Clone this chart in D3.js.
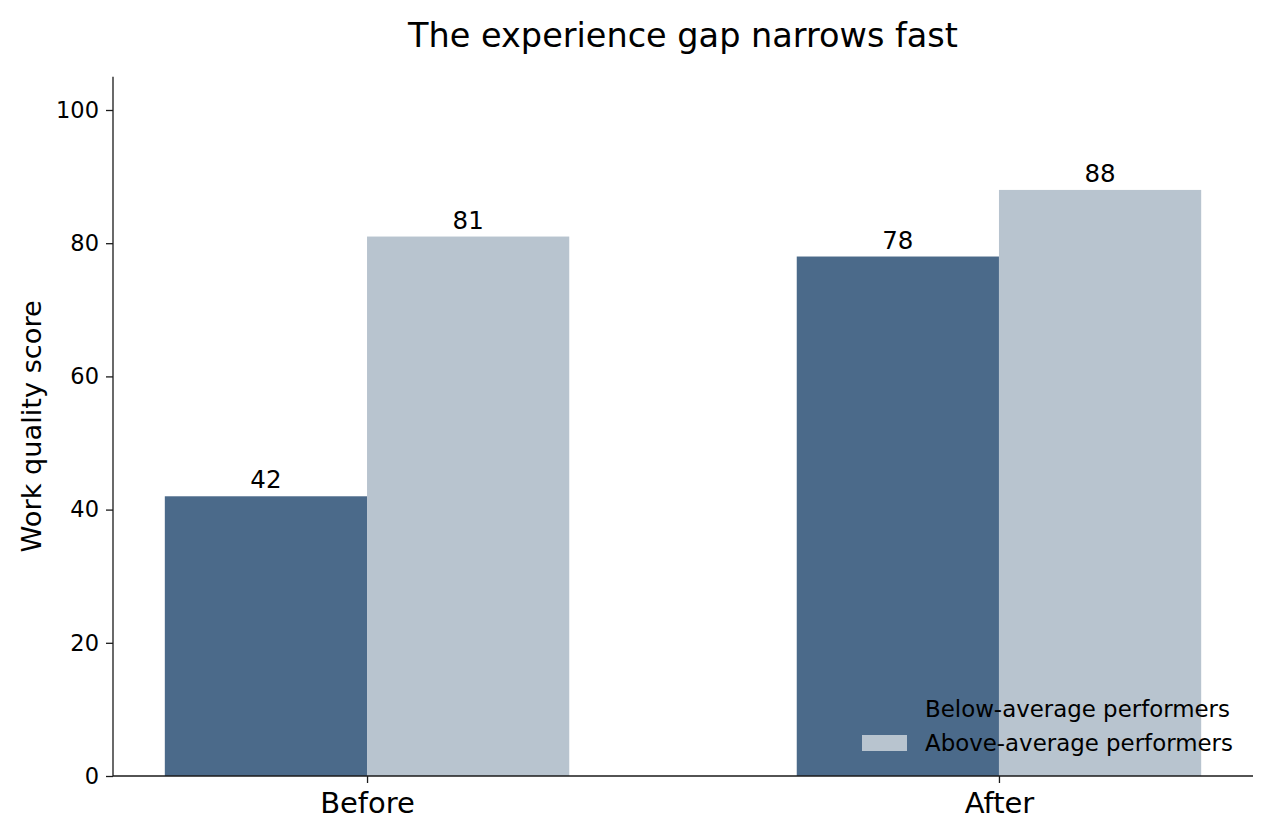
<!DOCTYPE html>
<html><head><meta charset="utf-8">
<script src="https://cdn.jsdelivr.net/npm/d3@7/dist/d3.min.js"></script>
<style>body{margin:0;background:#fff;} text{font-family:"DejaVu Sans",sans-serif;}</style>
</head><body>
<svg id="c" width="1275" height="840"></svg>
<script>
const categories = ["Before", "After"];
const seriesNames = ["Below-average performers", "Above-average performers"];
const belowAvg = [42, 78];
const aboveAvg = [81, 88];
const yTicks = [0, 20, 40, 60, 80, 100];
const colors = ["#4b6a8a", "#b8c4cf"];

const svg = d3.select("#c");
const L = 113, R = 1253, T = 76.7, B = 776;
const x = d3.scaleLinear().domain([-0.402, 1.402]).range([L, R]);
const y = d3.scaleLinear().domain([0, 105]).range([B, T]);
const bw = 0.32;
const series = [belowAvg, aboveAvg];

series.forEach((vals, s) => {
  const off = s === 0 ? -bw/2 : bw/2;
  svg.append("g").selectAll("rect").data(vals).join("rect")
    .attr("x", (d,i) => x(i + off - bw/2))
    .attr("width", (d,i) => x(i + off + bw/2) - x(i + off - bw/2))
    .attr("y", d => y(d))
    .attr("height", d => y(0) - y(d))
    .attr("fill", colors[s]);
  svg.append("g").selectAll("text").data(vals).join("text")
    .attr("x", (d,i) => x(i + off))
    .attr("y", d => y(d) - 8)
    .attr("text-anchor", "middle")
    .attr("font-size", 24.5)
    .attr("fill", "#000")
    .text(d => d);
});

// y axis
const ya = svg.append("g").attr("transform", `translate(${L},0)`)
  .call(d3.axisLeft(y).tickValues(yTicks).tickSize(7).tickPadding(7));
ya.select(".domain").attr("d", `M0,${T}V${B}`);
ya.selectAll("text").attr("font-size", 22.5).attr("fill", "#000");
// x axis
const xa = svg.append("g").attr("transform", `translate(0,${B})`)
  .call(d3.axisBottom(x).tickValues([0,1]).tickFormat(i => categories[i]).tickSize(7).tickPadding(9));
xa.select(".domain").attr("d", `M${L},0H${R}`);
xa.selectAll("text").attr("font-size", 29).attr("fill", "#000");
svg.selectAll(".domain, .tick line").attr("stroke", "#1a1a1a").attr("stroke-width", 1.3);
svg.selectAll(".domain").attr("fill", "none");

// title
svg.append("text").attr("x", (L+R)/2).attr("y", 47).attr("text-anchor", "middle")
  .attr("font-size", 33.5).attr("fill", "#000").text("The experience gap narrows fast");
// y label
svg.append("text").attr("transform", `translate(41,${(T+B)/2}) rotate(-90)`)
  .attr("text-anchor", "middle").attr("font-size", 27.2).attr("fill", "#000").text("Work quality score");

// legend
const lg = svg.append("g");
seriesNames.forEach((n, s) => {
  const yy = 717 + s*34;
  lg.append("rect").attr("x", 862).attr("y", yy - 16).attr("width", 45).attr("height", 16).attr("fill", colors[s]);
  lg.append("text").attr("x", 925).attr("y", yy).attr("font-size", 22.9).attr("fill", "#000").text(n);
});
</script>
</body></html>
